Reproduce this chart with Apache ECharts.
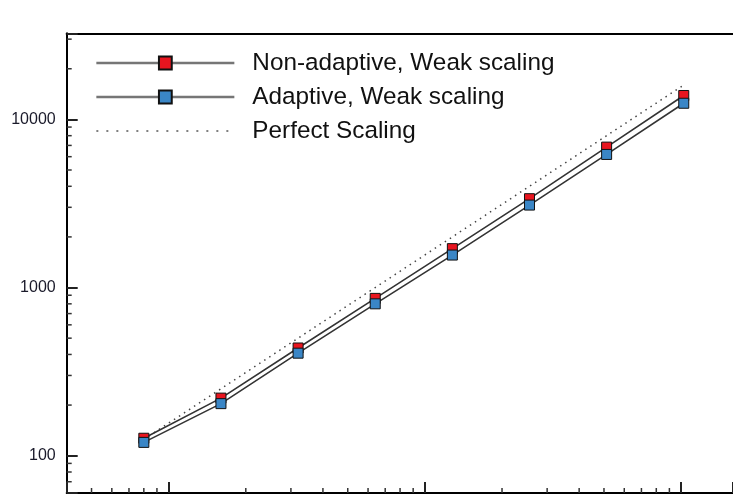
<!DOCTYPE html>
<html>
<head>
<meta charset="utf-8">
<script src="https://cdn.jsdelivr.net/npm/echarts@6/dist/echarts.min.js"></script>
<style>
html,body{margin:0;padding:0;background:#fff;}
#chart{width:733px;height:500px;}
</style>
</head>
<body>
<div id="chart"></div>
<script>
// ---- data ----
var processors = [8, 16, 32, 64, 128, 256, 512, 1024];
var nonAdaptive = [127, 220, 437, 862, 1703, 3375, 6840, 13870];
var adaptive = [120, 204, 407, 800, 1560, 3093, 6187, 12470];
var perfect = [125, 250, 500, 1000, 2000, 4000, 8000, 16000];
var yMajorLabels = [100, 1000, 10000];
var yMinorTicks = [70, 80, 90, 200, 300, 400, 500, 600, 700, 800, 900,
  2000, 3000, 4000, 5000, 6000, 7000, 8000, 9000, 20000, 30000];
var xMinorTicks = [5, 6, 7, 8, 9, 20, 30, 40, 50, 60, 70, 80, 90,
  200, 300, 400, 500, 600, 700, 800, 900];
var seriesNames = ['Non-adaptive, Weak scaling', 'Adaptive, Weak scaling', 'Perfect Scaling'];

var X_MIN = 4, X_MAX = 1594, Y_MIN = 60, Y_MAX = 32500;

function pairs(xs, ys) { return xs.map(function (x, i) { return [x, ys[i]]; }); }

var chart = echarts.init(document.getElementById('chart'), null, { renderer: 'canvas' });

var option = {
  backgroundColor: '#ffffff',
  animation: false,
  grid: { left: 66.7, top: 33.3, right: 0, bottom: 7, show: false },
  xAxis: [{
    type: 'log', logBase: 10, min: X_MIN, max: X_MAX,
    axisLine: { show: true, lineStyle: { color: '#000', width: 2 } },
    axisTick: { show: true, inside: true, length: 11, lineStyle: { color: '#222', width: 2 } },
    axisLabel: { show: false },
    splitLine: { show: false }
  }, {
    type: 'log', logBase: 10, min: X_MIN, max: X_MAX, position: 'top',
    axisLine: { show: true, lineStyle: { color: '#000', width: 2 } },
    axisTick: { show: false }, axisLabel: { show: false }, splitLine: { show: false }
  }],
  yAxis: {
    type: 'log', logBase: 10, min: Y_MIN, max: Y_MAX,
    axisLine: { show: true, lineStyle: { color: '#000', width: 2 } },
    axisTick: { show: true, inside: true, length: 11, lineStyle: { color: '#222', width: 2 } },
    axisLabel: {
      margin: 11, fontFamily: 'Liberation Sans', fontSize: 16, color: '#1a1a2a',
      formatter: function (v) { return yMajorLabels.indexOf(Math.round(v)) >= 0 ? String(Math.round(v)) : ''; }
    },
    splitLine: { show: false }
  },
  legend: {
    orient: 'vertical', left: 90, top: 46, itemWidth: 138, itemHeight: 16, itemGap: 10,
    textStyle: { fontFamily: 'Liberation Sans', fontSize: 24.3, color: '#111', lineHeight: 24, padding: [0, 0, 0, 13] },
    data: [
      { name: seriesNames[0], lineStyle: { color: '#767676', width: 2.7 } },
      { name: seriesNames[1], lineStyle: { color: '#767676', width: 2.7 } },
      { name: seriesNames[2], lineStyle: { color: '#808080', width: 2, type: [2, 8] }, itemStyle: { opacity: 0 } }
    ]
  },
  series: [
    {
      name: seriesNames[2], type: 'line', data: pairs(processors, perfect),
      symbol: 'none', z: 2,
      lineStyle: { color: '#444', width: 1.5, type: [1.5, 4.5] },
      itemStyle: { color: '#666' }
    },
    {
      name: seriesNames[0], type: 'line', data: pairs(processors, nonAdaptive),
      symbol: 'rect', symbolSize: 10, z: 3,
      lineStyle: { color: '#333', width: 1.6 },
      itemStyle: { color: '#e8151f', borderColor: '#111', borderWidth: 1 }
    },
    {
      name: seriesNames[1], type: 'line', data: pairs(processors, adaptive),
      symbol: 'rect', symbolSize: 10, z: 4,
      lineStyle: { color: '#333', width: 1.6 },
      itemStyle: { color: '#3a86c6', borderColor: '#111', borderWidth: 1 }
    },
    {
      name: 'yMinor', type: 'custom', silent: true, clip: false, z: 5,
      data: yMinorTicks,
      renderItem: function (params, api) {
        var p = api.coord([X_MIN, api.value(0)]);
        return { type: 'line', shape: { x1: p[0], y1: p[1], x2: p[0] + 5, y2: p[1] },
          style: { stroke: '#333', lineWidth: 1.5 } };
      },
      encode: { y: 0 }
    },
    {
      name: 'xMinor', type: 'custom', silent: true, clip: false, z: 5,
      data: xMinorTicks,
      renderItem: function (params, api) {
        var p = api.coord([api.value(0), Y_MIN]);
        return { type: 'line', shape: { x1: p[0], y1: p[1], x2: p[0], y2: p[1] - 5 },
          style: { stroke: '#333', lineWidth: 1.5 } };
      },
      encode: { x: 0 }
    }
  ]
};
chart.setOption(option);
</script>
</body>
</html>
